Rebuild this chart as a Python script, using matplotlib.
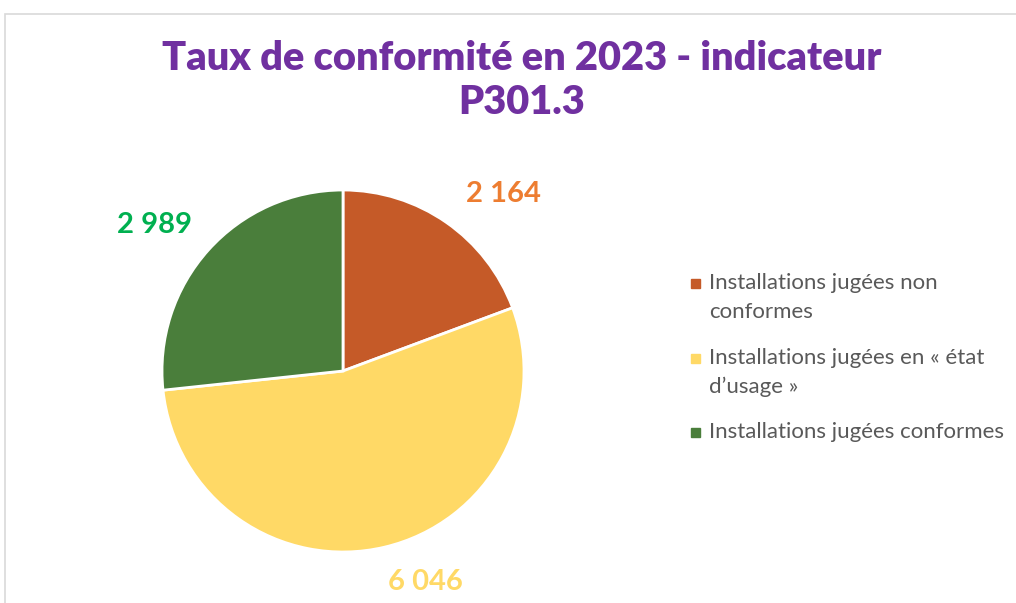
import numpy as np
import matplotlib.pyplot as plt
from matplotlib.patches import Rectangle

# conformity counts for indicator P301.3
categories = [["Installations jugées non", "conformes"],
              ["Installations jugées en « état", "d’usage »"],
              ["Installations jugées conformes"]]
counts = [2164, 6046, 2989]
value_labels = ["2 164", "6 046", "2 989"]

slice_colors = ["#C55A28", "#FFD966", "#4A7E3B"]
label_colors = ["#ED7D31", "#FFD966", "#00B050"]
# data label placement: radial distance and angular nudge (deg)
label_dist = [1.32, 1.25, 1.315]
label_shift = [-7.5, 8.0, 4.2]

W, H = 1016, 603
fig = plt.figure(figsize=(W / 100, H / 100), dpi=100)

# light frame around the chart area
fig.patches.append(Rectangle((5 / W, -0.1), 1.2, 1 - 14 / H + 0.1,
                             transform=fig.transFigure, fill=False,
                             edgecolor="#D9D9D9", linewidth=1.2))

title_kw = dict(ha="center", va="center", fontsize=28.6, fontweight="heavy",
                color="#7030A0", family="Lato")
fig.text(522 / W, 1 - 58 / H, "Taux de conformité en 2023 - indicateur", **title_kw)
fig.text(522 / W, 1 - 102 / H, "P301.3", **title_kw)

# pie centred at (343, 371) px with a radius of 181 px
cx, cy, r = 343, 371, 181
half = 1.4 * r
ax = fig.add_axes([(cx - half) / W, (H - cy - half) / H, 2 * half / W, 2 * half / H])
wedges, _ = ax.pie(counts, colors=slice_colors, startangle=90, counterclock=False,
                   wedgeprops=dict(edgecolor="white", linewidth=2))
ax.set_xlim(-1.4, 1.4)
ax.set_ylim(-1.4, 1.4)
ax.set_aspect("equal")
ax.axis("off")

total = sum(counts)
start = 90.0
for v, txt, col, d, sh in zip(counts, value_labels, label_colors, label_dist, label_shift):
    sweep = 360.0 * v / total
    mid = np.deg2rad(start - sweep / 2 + sh)
    ax.text(d * np.cos(mid), d * np.sin(mid), txt, ha="center", va="center",
            fontsize=21, fontweight="bold", color=col, family="Lato",
            clip_on=False)
    start -= sweep

# legend, one square per slice
leg_y = [283, 358, 432]
for lines, col, y in zip(categories, slice_colors, leg_y):
    fig.patches.append(Rectangle((691 / W, 1 - (y + 4.5) / H), 9 / W, 9 / H,
                                 transform=fig.transFigure, color=col))
    for i, line in enumerate(lines):
        fig.text(709 / W, 1 - (y + 29 * i) / H, line, ha="left", va="center",
                 fontsize=16, color="#595959", family="Lato")

fig.savefig("out.png", dpi=100)
